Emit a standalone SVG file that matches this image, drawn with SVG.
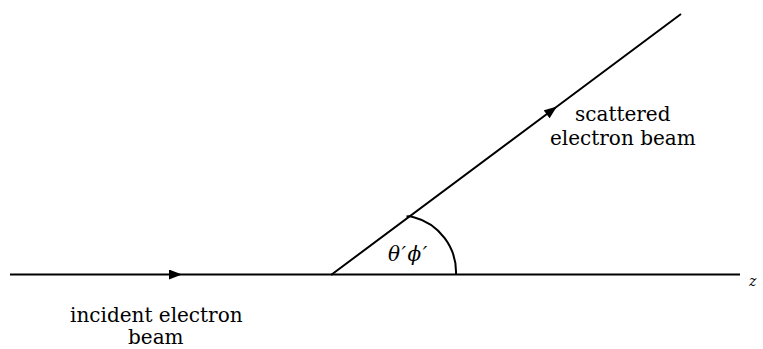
<svg xmlns="http://www.w3.org/2000/svg" width="763" height="349" viewBox="0 0 763 349">
<defs>
<style>
.ln{fill:none;stroke:#000;stroke-width:2}
.lbl{font-size:20px;fill:#000}
.math{font-style:italic;fill:#000}
</style>
<marker id="arr" markerUnits="userSpaceOnUse" markerWidth="13" markerHeight="10" refX="13" refY="5" orient="auto" viewBox="0 0 13 10">
<path d="M0,0 L13,5 L0,10 z" fill="#000"/>
</marker>
</defs>
<rect width="763" height="349" fill="#fff"/>
<g id="connectors">
<path id="incident" class="ln" d="M10,274.5 L182,274.5 L740,274.5" marker-mid="url(#arr)"/>
<path id="scattered" class="ln" d="M331,275 L557,106.5 L681,14" marker-mid="url(#arr)"/>
<path id="angle-arc" class="ln" d="M406.5,216.5 Q410,216 413,217 A57 57 0 0 1 456,274.5"/>
</g>
<g id="label-scattered" font-family="DejaVu Serif, serif">
<text class="lbl" x="575" y="121">scattered</text>
<text class="lbl" x="550" y="145">electron beam</text>
</g>
<g id="label-incident" font-family="DejaVu Serif, serif">
<text class="lbl" x="70" y="322">incident electron</text>
<text class="lbl" x="128" y="344">beam</text>
</g>
<g id="label-angle" font-family="DejaVu Serif, serif">
<text class="math" x="388" y="261" font-size="20" letter-spacing="1.5">θ′ϕ′</text>
</g>
<g id="label-z" font-family="DejaVu Serif, serif">
<text class="math" x="749" y="286" font-size="14">z</text>
</g>
</svg>
